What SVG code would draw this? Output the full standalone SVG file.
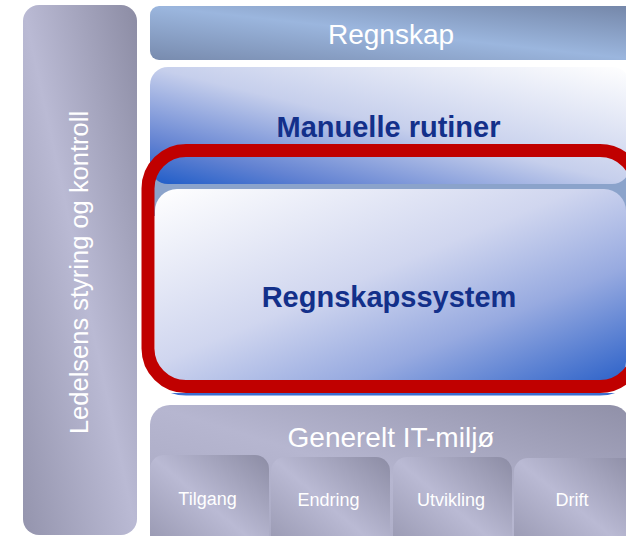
<svg xmlns="http://www.w3.org/2000/svg" width="626" height="536" viewBox="0 0 626 536">
  <defs>
    <!-- soft lavender-grey diagonal sheen: dark top-right, light middle, dark bottom-left -->
    <linearGradient id="gGrey" x1="1" y1="0" x2="0" y2="1">
      <stop offset="0" stop-color="#8c8ca4"/>
      <stop offset="0.5" stop-color="#babad4"/>
      <stop offset="1" stop-color="#9494ad"/>
    </linearGradient>
    <linearGradient id="gGreyBox" x1="1" y1="0" x2="0" y2="1">
      <stop offset="0" stop-color="#9090a8"/>
      <stop offset="0.5" stop-color="#b6b6d0"/>
      <stop offset="1" stop-color="#a4a4be"/>
    </linearGradient>
    <linearGradient id="gBar" x1="1" y1="0" x2="0" y2="1">
      <stop offset="0" stop-color="#7486a8"/>
      <stop offset="0.5" stop-color="#9bb6de"/>
      <stop offset="1" stop-color="#788bae"/>
    </linearGradient>
    <linearGradient id="gManual" x1="0" y1="1" x2="1" y2="0">
      <stop offset="0" stop-color="#1e5cc8"/>
      <stop offset="0.18" stop-color="#6282d2"/>
      <stop offset="0.5" stop-color="#c6cfec"/>
      <stop offset="1" stop-color="#ffffff"/>
    </linearGradient>
    <linearGradient id="gSystem" x1="0" y1="0" x2="1" y2="1">
      <stop offset="0" stop-color="#ffffff"/>
      <stop offset="0.45" stop-color="#d0d6ef"/>
      <stop offset="0.7" stop-color="#97aae0"/>
      <stop offset="1" stop-color="#2a60c8"/>
    </linearGradient>
    <clipPath id="underRed">
      <rect x="130" y="393" width="520" height="10"/>
    </clipPath>
    <style>
      .lbl { font-family: "Liberation Sans", Arial, sans-serif; text-anchor: middle; }
      .white { fill: #ffffff; }
      .navy { fill: #13308a; font-weight: bold; font-size: 29px; }
      .big { font-size: 28px; }
      .small { font-size: 18px; }
      .frame { fill: none; stroke-width: 13; }
    </style>
  </defs>

  <rect width="626" height="536" fill="#ffffff"/>

  <!-- management column on the left -->
  <g id="ledelse">
    <rect x="23" y="5" width="114" height="530" rx="16" fill="url(#gGrey)"/>
    <text class="lbl white" font-size="25.5" transform="translate(88,272.5) rotate(-90)">Ledelsens styring og kontroll</text>
  </g>

  <!-- accounting header bar -->
  <g id="regnskap">
    <rect x="150" y="6" width="490" height="54" rx="9" fill="url(#gBar)"/>
    <text class="lbl white big" x="391" y="43.5">Regnskap</text>
  </g>

  <!-- backing strip seen in the seam between the two blue boxes -->
  <rect x="152" y="176" width="478" height="40" fill="#8ba3cb"/>

  <g id="manuelle">
    <rect x="150" y="67" width="480" height="117" rx="18" fill="url(#gManual)"/>
    <text class="lbl navy" x="388.5" y="137">Manuelle rutiner</text>
  </g>

  <g id="system">
    <rect x="155" y="189" width="471" height="195" rx="22" fill="url(#gSystem)"/>
    <text class="lbl navy" x="389" y="306.5">Regnskapssystem</text>
  </g>

  <!-- red highlight frame with a thin blue edge beneath it -->
  <g id="highlight">
    <rect class="frame" x="148" y="153" width="490" height="236" rx="38" stroke="#3d6fd0" clip-path="url(#underRed)"/>
    <rect class="frame" x="148" y="150.5" width="490" height="236" rx="38" stroke="#c00000"/>
  </g>

  <!-- general IT environment and its four areas -->
  <g id="it-miljo">
    <rect x="150" y="405" width="480" height="150" rx="20" fill="url(#gGreyBox)"/>
    <text class="lbl white big" x="391" y="447">Generelt IT-miljø</text>
  </g>
  <g id="tilgang">
    <rect x="150" y="455" width="119" height="100" rx="14" fill="url(#gGrey)"/>
    <text class="lbl white small" x="207.5" y="504.5">Tilgang</text>
  </g>
  <g id="endring">
    <rect x="271" y="457" width="119" height="100" rx="14" fill="url(#gGrey)"/>
    <text class="lbl white small" x="328.5" y="506">Endring</text>
  </g>
  <g id="utvikling">
    <rect x="393" y="457" width="119" height="100" rx="14" fill="url(#gGrey)"/>
    <text class="lbl white small" x="451" y="506">Utvikling</text>
  </g>
  <g id="drift">
    <rect x="514" y="458" width="125" height="100" rx="14" fill="url(#gGrey)"/>
    <text class="lbl white small" x="572" y="506">Drift</text>
  </g>
</svg>
